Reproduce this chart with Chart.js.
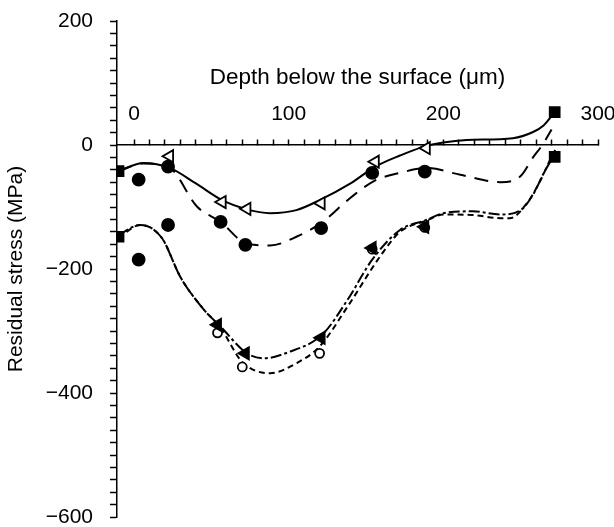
<!DOCTYPE html>
<html>
<head>
<meta charset="utf-8">
<script src="https://cdn.jsdelivr.net/npm/chart.js@4"></script>
<style>
  html, body { margin: 0; padding: 0; background: #fff; }
  #wrap { width: 614px; height: 527px; position: relative; }
</style>
</head>
<body>
<div id="wrap"><canvas id="c" width="614" height="527"></canvas></div>
<script>
// ---- Data ----
const xTitle = 'Depth below the surface (\u03bcm)';
const yTitle = 'Residual stress (MPa)';
const xTickLabels = [0, 100, 200, 300];
const yTickLabels = [200, 0, -200, -400, -600];

// Open left-pointing triangles (solid curve)
const triX = [23, 57, 73, 121, 156, 189];
const triY = [-18, -92, -103, -94, -27, -5];
// Filled circles (long-dashed curve)
const dotX = [22, 56, 72, 121, 154, 188];
const dotY = [-35, -124, -161, -134, -45, -43];
// Filled left-pointing triangles (dash-dot curve)
const ftriX = [54, 72, 121, 154, 188];
const ftriY = [-290, -336, -311, -166, -132];
// Open circles (short-dashed curve)
const ocX = [54, 70, 120, 154, 188];
const ocY = [-303, -358, -336, -168, -133];
// Filled circles near the surface
const surfX = [3, 3, 22];
const surfY = [-56, -185, -129];
// Filled squares (surface / end points)
const sqX = [-10, -10, 272, 272];
const sqY = [-42, -148, 53, -19];

// Fitted curves
const solidX = [-10, 6, 23, 40, 57, 72, 88, 105, 120, 140, 156, 172, 187, 200, 215, 245, 258, 265, 272];
const solidY = [-42, -29, -37, -62, -89, -103, -110, -105, -89, -62, -35, -17, -3, 4, 8, 11, 21, 32, 53];
const longX = [-10, 6, 22, 41, 56, 72, 88, 105, 122, 140, 156, 172, 189, 211, 237, 250, 258, 264, 270];
const longY = [-42, -30, -35, -100, -124, -158, -162, -148, -124, -85, -57, -45, -37, -48, -60, -50, -20, 0, 25];
const dashDotX = [-10, 4, 18, 30, 45, 56, 73, 84, 99, 122, 138, 154, 172, 189, 200, 219, 237, 250, 258, 265, 272];
const dashDotY = [-145, -129, -150, -213, -265, -293, -336, -344, -335, -305, -250, -185, -137, -121, -110, -107, -112, -105, -80, -45, -15];
const shortX = [-10, 4, 18, 30, 45, 56, 70, 88, 105, 120, 138, 159, 172, 189, 200, 219, 237, 243, 254, 262, 269, 273];
const shortY = [-150, -129, -150, -213, -265, -295, -350, -368, -352, -325, -261, -180, -140, -122, -112, -113, -118, -118, -94, -61, -24, -5];

const pts = (xs, ys) => xs.map((x, i) => ({x, y: ys[i]}));
const FONT = "'Liberation Sans', Arial, sans-serif";

function curve(xs, ys, dash) {
  return {
    data: pts(xs, ys), showLine: true, pointRadius: 0, borderColor: '#000',
    borderWidth: 2, borderDash: dash, cubicInterpolationMode: 'monotone', fill: false, order: 2
  };
}
function markers(xs, ys, style, radius, fillCol, rot) {
  return {
    data: pts(xs, ys), showLine: false, pointStyle: style, pointRadius: radius,
    pointRotation: rot || 0, pointBackgroundColor: fillCol, pointBorderColor: '#000',
    pointBorderWidth: 1.8, order: 1
  };
}
const minus = v => (v < 0 ? '\u2212' + Math.abs(v) : String(v));

new Chart(document.getElementById('c'), {
  type: 'scatter',
  data: {
    datasets: [
      curve(solidX, solidY, []),
      curve(longX, longY, [14, 9]),
      curve(dashDotX, dashDotY, [11, 3, 3, 3]),
      curve(shortX, shortY, [6, 4]),
      markers(triX, triY, 'triangle', 7, '#fff', -90),
      markers(dotX, dotY, 'circle', 6, '#000'),
      markers(ftriX, ftriY, 'triangle', 7, '#000', -90),
      markers(ocX, ocY, 'circle', 4.5, '#fff'),
      markers(surfX, surfY, 'circle', 6, '#000'),
      markers(sqX, sqY, 'rect', 7, '#000')
    ]
  },
  options: {
    responsive: false, animation: false, devicePixelRatio: 1,
    layout: { padding: { left: 0, top: 21, right: 16, bottom: 10 } },
    plugins: { legend: { display: false }, tooltip: { enabled: false } },
    scales: {
      x: {
        type: 'linear', min: -11, max: 300,
        position: { y: 0 },
        grid: {
          drawOnChartArea: false, tickLength: -6, tickWidth: 1.5,
          tickColor: ctx => (ctx.tick && ctx.tick.value < 0 ? 'rgba(0,0,0,0)' : '#000')
        },
        border: { display: true, color: '#000', width: 1.5 },
        ticks: {
          stepSize: 10, autoSkip: false, maxRotation: 0, includeBounds: false, padding: -37,
          color: '#000', font: { family: FONT, size: 21 },
          callback: v => (xTickLabels.includes(v) ? String(v) : '')
        },
        title: {
          display: true, text: xTitle, color: '#000',
          font: { family: FONT, size: 22.5 }, padding: { top: -26, bottom: 0 }
        }
      },
      y: {
        type: 'linear', min: -600, max: 200, position: 'left',
        afterFit: s => { s.width = 117; s.paddingTop = 0; s.paddingBottom = 0; },
        grid: { drawOnChartArea: false, tickLength: 7, tickWidth: 1.5, tickColor: '#000' },
        border: { display: true, color: '#000', width: 1.5 },
        ticks: {
          stepSize: 20, autoSkip: false, padding: 17, color: '#000',
          font: { family: FONT, size: 21 },
          callback: v => (yTickLabels.includes(v) ? minus(v) : '')
        },
        title: {
          display: true, text: yTitle, color: '#000',
          font: { family: FONT, size: 21 }, padding: { top: 4, bottom: 4 }
        }
      }
    }
  }
});
</script>
</body>
</html>
